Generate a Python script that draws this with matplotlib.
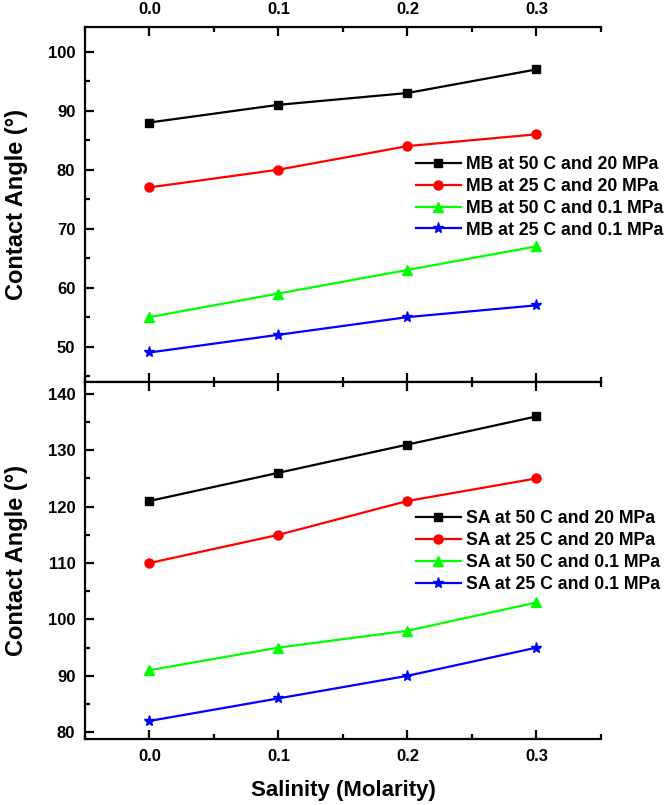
import matplotlib
matplotlib.use("Agg")
import matplotlib.pyplot as plt
from matplotlib.ticker import MultipleLocator

# ------------------------------- data -------------------------------
salinity = [0.0, 0.1, 0.2, 0.3]

mb_labels = ["MB at 50 C and 20 MPa", "MB at 25 C and 20 MPa",
             "MB at 50 C and 0.1 MPa", "MB at 25 C and 0.1 MPa"]
mb_50_20 = [88, 91, 93, 97]
mb_25_20 = [77, 80, 84, 86]
mb_50_01 = [55, 59, 63, 67]
mb_25_01 = [49, 52, 55, 57]

sa_labels = ["SA at 50 C and 20 MPa", "SA at 25 C and 20 MPa",
             "SA at 50 C and 0.1 MPa", "SA at 25 C and 0.1 MPa"]
sa_50_20 = [121, 126, 131, 136]
sa_25_20 = [110, 115, 121, 125]
sa_50_01 = [91, 95, 98, 103]
sa_25_01 = [82, 86, 90, 95]

colors = ["#000000", "#ff0000", "#00ff00", "#0000ff"]
markers = ["s", "o", "^", "*"]
msizes = [5.5, 6.5, 7.5, 8]

plt.rcParams["font.family"] = ["Liberation Sans", "DejaVu Sans"]
plt.rcParams["font.weight"] = "bold"

fig = plt.figure(figsize=(6.66, 8.05), dpi=100)
ax1 = fig.add_axes([0.1276, 0.5255, 0.7748, 0.441])
ax2 = fig.add_axes([0.1276, 0.082, 0.7748, 0.4435])


def style_axis(ax, top_labels):
    ax.set_xlim(-0.05, 0.35)
    ax.xaxis.set_major_locator(MultipleLocator(0.1))
    ax.xaxis.set_minor_locator(MultipleLocator(0.05))
    ax.yaxis.set_major_locator(MultipleLocator(10))
    ax.yaxis.set_minor_locator(MultipleLocator(5))
    ax.spines["right"].set_visible(False)
    for s in ("left", "top", "bottom"):
        ax.spines[s].set_linewidth(1.6)
    ax.tick_params(which="both", direction="in", width=1.6, top=True, bottom=True,
                   right=False, labeltop=top_labels, labelbottom=not top_labels,
                   labelsize=12, pad=7)
    ax.tick_params(which="major", length=6.5)
    ax.tick_params(which="minor", length=3.5)
    ax.xaxis.set_major_formatter(plt.FormatStrFormatter("%.1f"))
    for lab in ax.get_xticklabels() + ax.get_yticklabels():
        lab.set_fontweight("bold")
    ax.set_ylabel("Contact Angle (°)", fontsize=17, fontweight="bold", labelpad=14)


for ys, lab, c, m, ms in zip([mb_50_20, mb_25_20, mb_50_01, mb_25_01], mb_labels,
                             colors, markers, msizes):
    ax1.plot(salinity, ys, color=c, marker=m, markersize=ms, linewidth=1.6, label=lab)

for ys, lab, c, m, ms in zip([sa_50_20, sa_25_20, sa_50_01, sa_25_01], sa_labels,
                             colors, markers, msizes):
    ax2.plot(salinity, ys, color=c, marker=m, markersize=ms, linewidth=1.6, label=lab)

ax1.set_ylim(44, 104.2)
ax2.set_ylim(78.8, 142.1)
style_axis(ax1, True)
style_axis(ax2, False)
ax2.set_xlabel("Salinity (Molarity)", fontsize=16, fontweight="bold", labelpad=12)

leg_kw = dict(frameon=False, loc="upper left", borderaxespad=0, borderpad=0,
              handlelength=2.55, handletextpad=0.3, labelspacing=0.28,
              prop={"size": 12.7, "weight": "bold"})
ax1.legend(bbox_to_anchor=(0.641, 0.637), **leg_kw)
ax2.legend(bbox_to_anchor=(0.641, 0.64), **leg_kw)

fig.savefig("out.png", dpi=100)
